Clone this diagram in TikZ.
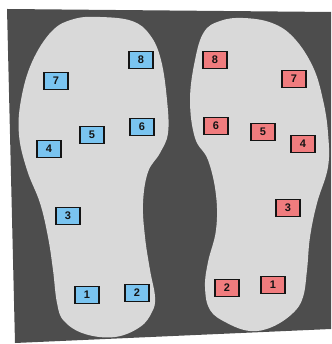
\documentclass[tikz,border=0pt]{standalone}
\usepackage{fontspec}
\setsansfont{Liberation Sans}
\usepackage{tikz}
\usetikzlibrary{positioning}
\definecolor{FloorGrey}{RGB}{77, 77, 77}
\definecolor{SoleGrey}{RGB}{217, 217, 217}
\definecolor{SensorBlue}{RGB}{122, 196, 240}
\definecolor{SensorRed}{RGB}{240, 124, 126}
\definecolor{SensorEdge}{RGB}{20, 20, 20}
\tikzset{
  sensor/.style={draw=SensorEdge, line width=1.5pt, minimum width=24pt, minimum height=17pt,
    inner sep=0pt, font=\sffamily\bfseries\fontsize{11}{13}\selectfont, text=SensorEdge},
  leftsensor/.style={sensor, fill=SensorBlue},
  rightsensor/.style={sensor, fill=SensorRed},
  sole/.style={fill=SoleGrey, draw=none}
}
\begin{document}
\begin{tikzpicture}[x=1pt, y=-1pt]
      \useasboundingbox (0,0) rectangle (331,344);
      % Floor plate
      \fill[FloorGrey] (7,9) -- (331,12) -- (331,329) -- (15,343) -- cycle;
      % Left insole
      \fill[sole] plot[smooth cycle, tension=0.65] coordinates {
        (100,17) (132,21) (150,35) (161,60) (167,100) (168,133) (160,153)
        (148,172) (143,203) (145,237) (150,270) (155,297) (152,312)
        (140,327) (115,337) (85,334) (64,321) (57,303) (53,270) (48,237) (40,203)
        (27,170) (19,135) (21,100) (32,62) (52,31) (74,19)};
      % Right insole
      \fill[sole] plot[smooth cycle, tension=0.65] coordinates {
        (243,18) (272,23) (294,38) (313,67) (323,100) (328,133) (328,167)
        (317,203) (310,237) (307,270) (303,297) (293,313) (272,327) (250,331)
        (227,323) (210,310) (205,287) (208,262) (216,230) (216,195) (208,160)
        (195,138) (190,100) (195,60) (204,32) (220,21)};
      % Left sensors
      \node[leftsensor] (b8) at (141,60) {8};
      \node[leftsensor] (b7) at (56,81) {7};
      \node[leftsensor] (b6) at (142,127) {6};
      \node[leftsensor] (b5) at (92,135) {5};
      \node[leftsensor] (b4) at (49,149) {4};
      \node[leftsensor] (b3) at (68,216) {3};
      \node[leftsensor] (b1) at (87,295) {1};
      \node[leftsensor] (b2) at (137,293) {2};
      % Right sensors
      \node[rightsensor] (r8) at (215,60) {8};
      \node[rightsensor] (r7) at (294,79) {7};
      \node[rightsensor] (r6) at (216,126) {6};
      \node[rightsensor] (r5) at (263,132) {5};
      \node[rightsensor] (r4) at (303,144) {4};
      \node[rightsensor] (r3) at (288,208) {3};
      \node[rightsensor] (r2) at (227,288) {2};
      \node[rightsensor] (r1) at (273,285) {1};
    \end{tikzpicture}
\end{document}
